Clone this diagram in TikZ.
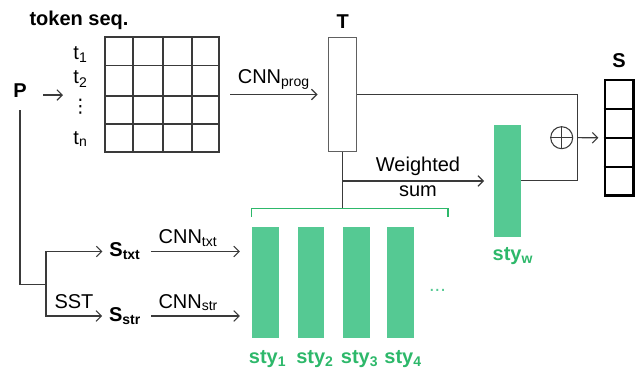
\documentclass[tikz,border=0pt]{standalone}
\usepackage{fontspec}
\setmainfont{Liberation Sans}
\newfontfamily\symfont{DejaVu Sans}
\usetikzlibrary{arrows.meta,positioning}
\definecolor{BarGreen}{HTML}{55C993}
\definecolor{LabelGreen}{HTML}{2DB86A}
\definecolor{LineGray}{HTML}{3A3A3A}
\definecolor{BoxGray}{HTML}{606060}

\begin{document}
\begin{tikzpicture}[x=0.75pt,y=-0.75pt,font=\fontsize{15}{18}\selectfont,
    line width=0.8pt,draw=LineGray,
    arr/.style={-{Straight Barb[length=4pt,width=8pt]}},
    bar/.style={fill=BarGreen,minimum width=20pt,minimum height=83.7pt,inner sep=0pt},
    stylab/.style={LabelGreen,font=\fontsize{15}{18}\selectfont\bfseries},
    tlab/.style={inner sep=0.5pt}]
  \useasboundingbox (0,0) rectangle (637,371);
  % token sequence
  \node[font=\fontsize{15}{18}\selectfont\bfseries] (tok) at (79,20) {token seq.};
  \node[draw,minimum width=85.5pt,minimum height=86.25pt,inner sep=0pt] (grid) at (162,94.5) {};
  \foreach \gx in {133,163,192} \draw (grid.north -| \gx,0) -- (grid.south -| \gx,0);
  \foreach \gy in {65.5,96,124} \draw (grid.west |- 0,\gy) -- (grid.east |- 0,\gy);
  \node[tlab] (t1) at (80.5,55) {t\textsubscript{1}};
  \node[tlab] (t2) at (80.5,79) {t\textsubscript{2}};
  \node[tlab,font=\fontsize{14}{16}\symfont] (tdots) at (80.5,107) {⋮};
  \node[tlab] (tn) at (80.5,139) {t\textsubscript{n}};
  \node[font=\fontsize{15}{18}\selectfont\bfseries] (P) at (20,90.5) {P};
  \coordinate (pa) at (43,95);
  \coordinate (pb) at (63,95);
  \draw[arr] (pa) -- (pb);
  % program vector T
  \node[draw=BoxGray,minimum width=21pt,minimum height=85.7pt,inner sep=0pt] (T) at (342.7,94.5) {};
  \node[font=\fontsize{15}{18}\selectfont\bfseries] (Tlab) at (342.7,21.7) {T};
  \draw[arr,shorten <=8pt,shorten >=8pt] (grid.east) -- node[above]{CNN\textsubscript{prog}} (grid.east -| T.west);
  % style vectors
  \foreach \bx/\k/\sx in {265.7/1/1.4,311/2/3,356.7/3/2.2,400.7/4/1.8} {
    \node[bar] (b\k) at (\bx,282.5) {};
    \node[stylab,below=5pt of b\k,xshift=\sx pt] (s\k lab) {sty\textsubscript{\k}};
  }
  \node[BarGreen] (more) at (437.5,290) {...};
  \node[bar] (styw) at (507.2,180.9) {};
  \node[stylab,below=4pt of styw,xshift=4.3pt] (swlab) {sty\textsubscript{w}};
  % S_txt and S_str
  \node[font=\fontsize{15}{18}\selectfont\bfseries] (stxt) at (125,251.5) {S\textsubscript{txt}};
  \node[font=\fontsize{15}{18}\selectfont\bfseries] (sstr) at (125,316) {S\textsubscript{str}};
  \coordinate (split) at (46,284.3);
  \draw ([yshift=-6pt]P.south) |- (split);
  \draw[arr,shorten >=1.5pt] (split) |- (stxt.west);
  \draw[arr,shorten >=1.5pt] (split) |- (sstr.west);
  \node (sst) at (74,301.3) {SST};
  \draw[arr,shorten <=4pt,shorten >=9pt] (stxt.east) -- node[above,pos=0.4]{CNN\textsubscript{txt}} (stxt.east -| b1.west);
  \draw[arr,shorten <=4pt,shorten >=9pt] (sstr.east) -- node[above,pos=0.4]{CNN\textsubscript{str}} (sstr.east -| b1.west);
  % brace and weighted sum
  \coordinate (brl) at (251.7,216.7);
  \coordinate (brtop) at (342.7,208.3);
  \coordinate (brr) at (448,216.7);
  \draw[LabelGreen] (brl) |- (brtop) -| (brr);
  \draw (T.south) -- (brtop);
  \coordinate (wsrc) at (342.7,181);
  \draw[arr,shorten >=7pt] (wsrc) -- node[above]{Weighted} node[below]{sum} (wsrc -| styw.west);
  % output S
  \node[draw=black,line width=2pt,minimum width=21.2pt,minimum height=86.8pt,inner sep=0pt] (S) at (619.2,137.8) {};
  \foreach \sy in {109,138,167} \draw[black,line width=2pt] (S.west |- 0,\sy) -- (S.east |- 0,\sy);
  \node[font=\fontsize{15}{18}\selectfont\bfseries] (Slab) at (619,60.8) {S};
  \node[draw,circle,minimum size=16.5pt,inner sep=0pt] (plus) at (561.7,137.7) {};
  \draw (plus.north) -- (plus.south) (plus.west) -- (plus.east);
  \coordinate (join) at (577.7,137.7);
  \draw (T.east) -| (join) |- (styw.east);
  \draw[arr,shorten >=4pt] (join) -- (S.west);
\end{tikzpicture}
\end{document}
